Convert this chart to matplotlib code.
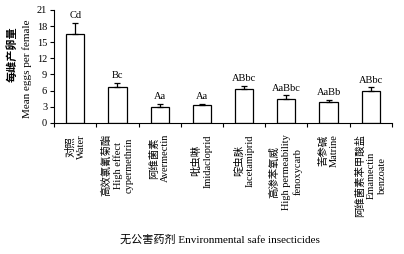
import numpy as np
import matplotlib
matplotlib.use("Agg")
import matplotlib.pyplot as plt

# data
names_cn = ["对照", "高效氯氰菊酯", "阿维菌素", "吡虫啉", "啶虫脒", "高渗苯氧威", "苦参碱", "阿维菌素苯甲酸盐"]
names_en = ["Water", "High effect\ncypermethrin", "Avermectin", "Imidacloprid", "Iacetamiprid",
            "High permeability\nfenoxycarb", "Matrine", "Emamectin\nbenzoate"]
means = [16.6, 6.6, 3.0, 3.3, 6.3, 4.5, 3.85, 5.95]
errs = [2.0, 0.8, 0.5, 0.25, 0.55, 0.6, 0.45, 0.65]
letters = ["Cd", "Bc", "Aa", "Aa", "ABbc", "AaBbc", "AaBb", "ABbc"]
yticks = [0, 3, 6, 9, 12, 15, 18, 21]

fam = ["Liberation Serif", "Noto Sans CJK SC"]
plt.rcParams["font.family"] = fam
plt.rcParams["font.size"] = 7.5

fig = plt.figure(figsize=(4.04, 2.54), dpi=100)
ax = fig.add_axes([0.134, 0.516, 0.836, 0.445])

x = np.arange(len(means))
ax.bar(x, means, width=0.43, color="white", edgecolor="black", linewidth=0.9)
ax.errorbar(x, means, yerr=[np.zeros(len(errs)), errs], fmt="none", ecolor="black",
            elinewidth=0.9, capsize=2.2, capthick=0.9)
for xi, m, e, t in zip(x, means, errs, letters):
    ax.annotate(t, (xi, m + e), xytext=(0, 2), textcoords="offset points",
                ha="center", va="bottom", fontsize=7.5)

ax.set_xlim(-0.5, len(means) - 0.5)
ax.set_ylim(0, 21)
ax.set_yticks(yticks)
ax.tick_params(axis="y", direction="out", length=3, width=0.8, pad=2, labelsize=7.5)

labels = [c + "\n" + e for c, e in zip(names_cn, names_en)]
ax.set_xticks(x)
ax.set_xticklabels(labels, rotation=90, multialignment="center", fontsize=7.5, linespacing=1.3)
ax.tick_params(axis="x", which="major", length=0, pad=8)
ax.set_xticks(np.arange(len(means) + 1) - 0.5, minor=True)
ax.tick_params(axis="x", which="minor", direction="out", length=3, width=0.8)

ax.spines["top"].set_visible(False)
ax.spines["right"].set_visible(False)
ax.spines["left"].set_linewidth(0.8)
ax.spines["bottom"].set_linewidth(0.8)

fig.text(0.03, 0.785, "每雌产卵量", rotation=90, ha="center", va="center", fontsize=8,
         fontweight="bold")
fig.text(0.068, 0.73, "Mean eggs per female", rotation=90, ha="center", va="center", fontsize=8)
fig.text(0.545, 0.055, "无公害药剂 Environmental safe insecticides", ha="center", va="center", fontsize=8)

fig.savefig("out.png", dpi=100)
